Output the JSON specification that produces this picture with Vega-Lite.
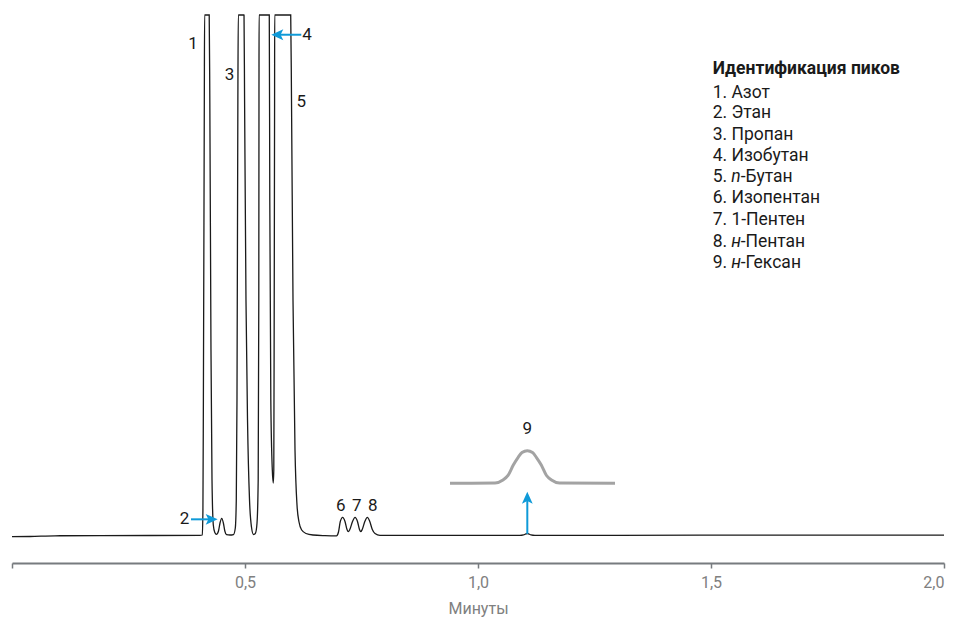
{
  "$schema": "https://vega.github.io/schema/vega-lite/v6.json",
  "width": 932,
  "height": 548,
  "autosize": {"type": "none"},
  "padding": {"left": 12, "top": 15, "right": 14, "bottom": 56},
  "background": "white",
  "config": {
    "view": {"stroke": null},
    "font": "Roboto",
    "axis": {
      "domainColor": "#777b7f",
      "domainWidth": 2,
      "tickColor": "#777b7f",
      "tickWidth": 1.5,
      "tickSize": 5,
      "labelColor": "#808080",
      "labelFont": "Roboto",
      "labelFontSize": 16,
      "labelPadding": 6,
      "titleColor": "#808080",
      "titleFont": "Roboto",
      "titleFontSize": 16,
      "titleFontWeight": "normal",
      "titlePadding": 10,
      "grid": false
    }
  },
  "datasets": {
    "signal": [
      {"t": 0.0, "v": 4.80}, {"t": 0.0386, "v": 4.84}, {"t": 0.0923, "v": 4.96}, {"t": 0.1888, "v": 5.00},
      {"t": 0.4034, "v": 5.04}, {"t": 0.4084, "v": 5.11}, {"t": 0.4097, "v": 9.67}, {"t": 0.4107, "v": 29.74},
      {"t": 0.4127, "v": 84.49}, {"t": 0.4133, "v": 100}, {"t": 0.4232, "v": 100}, {"t": 0.4245, "v": 84.49},
      {"t": 0.4270, "v": 38.87}, {"t": 0.4292, "v": 15.15}, {"t": 0.4320, "v": 6.93}, {"t": 0.4352, "v": 5.57},
      {"t": 0.4388, "v": 5.24}, {"t": 0.4431, "v": 5.84}, {"t": 0.4464, "v": 7.30}, {"t": 0.4500, "v": 8.16},
      {"t": 0.4536, "v": 7.30}, {"t": 0.4567, "v": 5.84}, {"t": 0.4603, "v": 5.18}, {"t": 0.4678, "v": 5.11},
      {"t": 0.4753, "v": 5.20}, {"t": 0.4792, "v": 6.39}, {"t": 0.4813, "v": 11.50}, {"t": 0.4828, "v": 29.74},
      {"t": 0.4847, "v": 84.49}, {"t": 0.4856, "v": 100}, {"t": 0.4979, "v": 100}, {"t": 0.4991, "v": 84.49},
      {"t": 0.5021, "v": 47.99}, {"t": 0.5054, "v": 26.09}, {"t": 0.5097, "v": 11.50}, {"t": 0.5139, "v": 6.57},
      {"t": 0.5182, "v": 5.20}, {"t": 0.5225, "v": 5.47}, {"t": 0.5258, "v": 7.30}, {"t": 0.5283, "v": 15.15},
      {"t": 0.5296, "v": 47.99}, {"t": 0.5300, "v": 84.49}, {"t": 0.5302, "v": 100}, {"t": 0.5521, "v": 100},
      {"t": 0.5532, "v": 66.24}, {"t": 0.5554, "v": 29.74}, {"t": 0.5586, "v": 16.97}, {"t": 0.5607, "v": 14.60},
      {"t": 0.5618, "v": 16.97}, {"t": 0.5627, "v": 47.99}, {"t": 0.5635, "v": 84.49}, {"t": 0.5637, "v": 100},
      {"t": 0.5981, "v": 100}, {"t": 0.5998, "v": 84.49}, {"t": 0.6030, "v": 47.99}, {"t": 0.6073, "v": 20.62},
      {"t": 0.6116, "v": 10.58}, {"t": 0.6159, "v": 7.48}, {"t": 0.6217, "v": 6.02}, {"t": 0.6309, "v": 5.38},
      {"t": 0.6459, "v": 5.11}, {"t": 0.6717, "v": 5.00}, {"t": 0.6963, "v": 4.96}, {"t": 0.7006, "v": 5.66},
      {"t": 0.7045, "v": 7.57}, {"t": 0.7096, "v": 8.34}, {"t": 0.7146, "v": 7.57}, {"t": 0.7189, "v": 6.11},
      {"t": 0.7217, "v": 5.71}, {"t": 0.7249, "v": 6.11}, {"t": 0.7307, "v": 7.57}, {"t": 0.7361, "v": 8.34},
      {"t": 0.7414, "v": 7.57}, {"t": 0.7457, "v": 6.11}, {"t": 0.7483, "v": 5.71}, {"t": 0.7515, "v": 6.11},
      {"t": 0.7571, "v": 7.57}, {"t": 0.7625, "v": 8.34}, {"t": 0.7678, "v": 7.57}, {"t": 0.7732, "v": 6.11},
      {"t": 0.7790, "v": 5.38}, {"t": 0.7897, "v": 5.05}, {"t": 0.9399, "v": 5.04}, {"t": 1.0901, "v": 5.04},
      {"t": 1.0977, "v": 5.13}, {"t": 1.1058, "v": 5.38}, {"t": 1.1137, "v": 5.13}, {"t": 1.1223, "v": 5.04},
      {"t": 1.4764, "v": 5.07}, {"t": 2.0, "v": 5.07}
    ],
    "inset": [
      {"t": 0.9399, "v": 14.54}, {"t": 1.0365, "v": 14.60}, {"t": 1.0536, "v": 15.15}, {"t": 1.0644, "v": 15.97},
      {"t": 1.0758, "v": 17.88}, {"t": 1.0858, "v": 19.25}, {"t": 1.0944, "v": 20.16}, {"t": 1.1058, "v": 20.49},
      {"t": 1.1170, "v": 20.16}, {"t": 1.1255, "v": 19.25}, {"t": 1.1358, "v": 17.88}, {"t": 1.1470, "v": 15.97},
      {"t": 1.1577, "v": 15.15}, {"t": 1.1749, "v": 14.60}, {"t": 1.2940, "v": 14.54}
    ],
    "peakLabels": [
      {"t": 0.3884, "v": 94.76, "label": "1"},
      {"t": 0.3702, "v": 7.97, "label": "2"},
      {"t": 0.4667, "v": 89.05, "label": "3"},
      {"t": 0.6330, "v": 96.40, "label": "4"},
      {"t": 0.6208, "v": 84.18, "label": "5"},
      {"t": 0.7054, "v": 10.40, "label": "6"},
      {"t": 0.7397, "v": 10.40, "label": "7"},
      {"t": 0.7740, "v": 10.40, "label": "8"},
      {"t": 1.1058, "v": 24.40, "label": "9"}
    ],
    "arrows": [
      {"peak": "2", "t1": 0.3841, "t2": 0.4285, "v1": 7.97, "v2": 7.97},
      {"peak": "4", "t1": 0.5693, "t2": 0.6208, "v1": 96.40, "v2": 96.40},
      {"peak": "9", "t1": 1.1058, "t2": 1.1058, "v1": 5.30, "v2": 11.92}
    ],
    "heads": [
      {"peak": "2", "t": 0.4285, "v": 7.97, "dir": "right"},
      {"peak": "4", "t": 0.5693, "v": 96.40, "dir": "left"},
      {"peak": "9", "t": 1.1058, "v": 11.92, "dir": "up"}
    ],
    "legend": [
      {"t": 1.5035, "v": 85.82, "pre": "1. Азот", "it": "", "post": ""},
      {"t": 1.5035, "v": 82.06, "pre": "2. Этан", "it": "", "post": ""},
      {"t": 1.5035, "v": 78.10, "pre": "3. Пропан", "it": "", "post": ""},
      {"t": 1.5035, "v": 74.27, "pre": "4. Изобутан", "it": "", "post": ""},
      {"t": 1.5035, "v": 70.38, "pre": "5. ", "it": "n", "post": "-Бутан"},
      {"t": 1.5035, "v": 66.55, "pre": "6. Изопентан", "it": "", "post": ""},
      {"t": 1.5035, "v": 62.59, "pre": "7. 1-Пентен", "it": "", "post": ""},
      {"t": 1.5035, "v": 58.63, "pre": "8. ", "it": "н", "post": "-Пентан"},
      {"t": 1.5035, "v": 54.69, "pre": "9. ", "it": "н", "post": "-Гексан"}
    ],
    "legendTitle": [
      {"t": 1.5035, "v": 90.09, "text": "Идентификация пиков"}
    ]
  },
  "layer": [
    {
      "data": {"name": "inset"},
      "mark": {"type": "line", "color": "#a3a3a3", "strokeWidth": 3, "interpolate": "monotone"},
      "encoding": {
        "x": {"field": "t", "type": "quantitative", "title": "Минуты",
          "scale": {"domain": [0, 2], "nice": false, "zero": false},
          "axis": {"values": [0, 0.5, 1, 1.5, 2], "labelExpr": "datum.value == 0 ? '' : replace(format(datum.value, '.1f'), '.', ',')"}},
        "y": {"field": "v", "type": "quantitative", "scale": {"domain": [0, 100], "nice": false, "zero": false}, "axis": null}
      }
    },
    {
      "data": {"name": "signal"},
      "mark": {"type": "line", "color": "#1a1a1a", "strokeWidth": 1.3, "interpolate": "monotone"},
      "encoding": {
        "x": {"field": "t", "type": "quantitative", "title": "Минуты"},
        "y": {"field": "v", "type": "quantitative", "axis": null}
      }
    },
    {
      "data": {"name": "arrows"},
      "mark": {"type": "rule", "color": "#0f9ad8", "strokeWidth": 2},
      "encoding": {
        "x": {"field": "t1", "type": "quantitative", "title": "Минуты"},
        "x2": {"field": "t2"},
        "y": {"field": "v1", "type": "quantitative", "axis": null},
        "y2": {"field": "v2"}
      }
    },
    {
      "data": {"name": "heads"},
      "mark": {"type": "point", "filled": true, "opacity": 1, "size": 144, "color": "#0f9ad8", "strokeWidth": 0},
      "encoding": {
        "x": {"field": "t", "type": "quantitative", "title": "Минуты"},
        "y": {"field": "v", "type": "quantitative", "axis": null},
        "shape": {"field": "dir", "type": "nominal", "legend": null,
          "scale": {"domain": ["up", "left", "right"], "range": ["M0,-1L0.9,1L0,0.55L-0.9,1Z", "M-1,0L1,-0.9L0.55,0L1,0.9Z", "M1,0L-1,-0.9L-0.55,0L-1,0.9Z"]}}
      }
    },
    {
      "data": {"name": "peakLabels"},
      "mark": {"type": "text", "fontSize": 17, "color": "#1a1a1a", "align": "center", "baseline": "middle"},
      "encoding": {
        "x": {"field": "t", "type": "quantitative", "title": "Минуты"},
        "y": {"field": "v", "type": "quantitative", "axis": null},
        "text": {"field": "label"}
      }
    },
    {
      "data": {"name": "legendTitle"},
      "mark": {"type": "text", "fontSize": 17.5, "fontWeight": "bold", "color": "#1a1a1a", "align": "left", "baseline": "middle"},
      "encoding": {
        "x": {"field": "t", "type": "quantitative", "title": "Минуты"},
        "y": {"field": "v", "type": "quantitative", "axis": null},
        "text": {"field": "text"}
      }
    },
    {
      "data": {"name": "legend"},
      "mark": {"type": "text", "fontSize": 17.5, "color": "#1a1a1a", "align": "left", "baseline": "middle"},
      "encoding": {
        "x": {"field": "t", "type": "quantitative", "title": "Минуты"},
        "y": {"field": "v", "type": "quantitative", "axis": null},
        "text": {"field": "pre"}
      }
    },
    {
      "data": {"name": "legend"},
      "transform": [{"filter": "datum.it != ''"}],
      "mark": {"type": "text", "fontSize": 17.5, "fontStyle": "italic", "color": "#1a1a1a", "align": "left", "baseline": "middle", "dx": 18.6},
      "encoding": {
        "x": {"field": "t", "type": "quantitative", "title": "Минуты"},
        "y": {"field": "v", "type": "quantitative", "axis": null},
        "text": {"field": "it"}
      }
    },
    {
      "data": {"name": "legend"},
      "transform": [{"filter": "datum.post != ''"}],
      "mark": {"type": "text", "fontSize": 17.5, "color": "#1a1a1a", "align": "left", "baseline": "middle", "dx": 28},
      "encoding": {
        "x": {"field": "t", "type": "quantitative", "title": "Минуты"},
        "y": {"field": "v", "type": "quantitative", "axis": null},
        "text": {"field": "post"}
      }
    }
  ]
}
